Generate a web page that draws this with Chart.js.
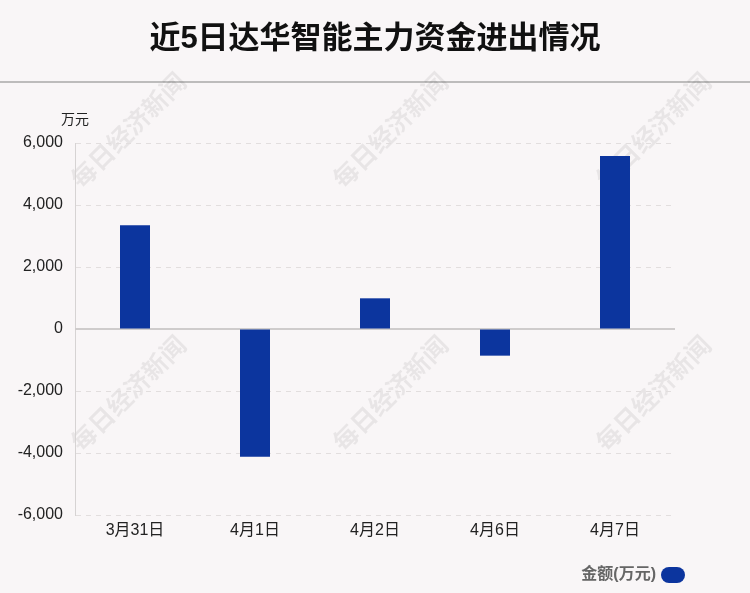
<!DOCTYPE html>
<html>
<head>
<meta charset="utf-8">
<script src="https://cdn.jsdelivr.net/npm/chart.js@4/dist/chart.umd.min.js"></script>
<style>
  html, body { margin: 0; padding: 0; background: #f9f6f7; }
  #wrap { width: 750px; height: 593px; position: relative; }
</style>
</head>
<body>
<div id="wrap"><canvas id="chart" width="750" height="593"></canvas></div>
<script>
// 数据
const chartTitle = "近5日达华智能主力资金进出情况";
const unitLabel = "万元";
const seriesName = "金额(万元)";
const categories = ["3月31日", "4月1日", "4月2日", "4月6日", "4月7日"];
const amounts = [3350, -4120, 990, -860, 5580];
const yTicks = [-6000, -4000, -2000, 0, 2000, 4000, 6000];
const watermark = "每日经济新闻";

const FONT = "'Liberation Sans', 'Noto Sans CJK SC', sans-serif";
const BAR_COLOR = "#0c359e";

// 标题、分隔线、水印、单位、零线、图例
const decoPlugin = {
  id: "deco",
  beforeDraw(chart) {
    const c = chart.ctx;
    c.save();
    c.fillStyle = "#f9f6f7";
    c.fillRect(0, 0, chart.width, chart.height);
    // 标题
    c.fillStyle = "#111";
    c.font = "bold 31px " + FONT;
    c.textAlign = "center";
    c.textBaseline = "middle";
    c.fillText(chartTitle, chart.width / 2, 39);
    // 分隔线
    c.strokeStyle = "#bdbcbc";
    c.lineWidth = 2;
    c.beginPath();
    c.moveTo(0, 82);
    c.lineTo(chart.width, 82);
    c.stroke();
    // 水印
    c.fillStyle = "rgba(0,0,0,0.065)";
    c.font = "bold 25px " + FONT;
    [[130, 132], [392, 132], [655, 132], [130, 395], [392, 395], [655, 395]].forEach(([x, y]) => {
      c.save();
      c.translate(x, y);
      c.rotate(-Math.PI / 4);
      c.fillText(watermark, 0, 0);
      c.restore();
    });
    // 单位
    c.fillStyle = "#222";
    c.font = "14px " + FONT;
    c.fillText(unitLabel, 75, 120);
    // 图例
    c.fillStyle = "#666";
    c.font = "bold 16px " + FONT;
    c.textAlign = "right";
    c.fillText(seriesName, 656, 575);
    c.fillStyle = BAR_COLOR;
    c.beginPath();
    c.roundRect(661, 567, 24, 16, 8);
    c.fill();
    c.restore();
  },
  beforeDatasetsDraw(chart) {
    const c = chart.ctx;
    const y = chart.scales.y.getPixelForValue(0);
    c.save();
    c.strokeStyle = "#cfcccc";
    c.lineWidth = 2;
    c.beginPath();
    c.moveTo(chart.chartArea.left, y);
    c.lineTo(chart.chartArea.right, y);
    c.stroke();
    c.restore();
  }
};

new Chart(document.getElementById("chart"), {
  type: "bar",
  data: {
    labels: categories,
    datasets: [{
      label: seriesName,
      data: amounts,
      backgroundColor: BAR_COLOR,
      barPercentage: 0.25,
      categoryPercentage: 1
    }]
  },
  options: {
    responsive: false,
    animation: false,
    layout: { padding: { top: 143, right: 75, left: 0, bottom: 48 } },
    plugins: {
      legend: { display: false },
      tooltip: { enabled: false }
    },
    scales: {
      x: {
        grid: { display: false },
        border: { display: false },
        afterFit(scale) { scale.height = 30; },
        ticks: { color: "#222", font: { family: FONT, size: 16 }, padding: -2 }
      },
      y: {
        min: -6000,
        max: 6000,
        afterFit(scale) { scale.width = 75; },
        afterBuildTicks(scale) { scale.ticks = yTicks.map(v => ({ value: v })); },
        ticks: {
          color: "#222",
          font: { family: FONT, size: 16 },
          padding: 12,
          callback: v => v.toLocaleString("en-US")
        },
        grid: {
          color: ctx => ctx.tick && ctx.tick.value === 0 ? "rgba(0,0,0,0)" : "#e2dede",
          drawTicks: false
        },
        border: { display: true, color: "#d6d3d3", dash: [5, 5] }
      }
    }
  },
  plugins: [decoPlugin]
});
</script>
</body>
</html>
